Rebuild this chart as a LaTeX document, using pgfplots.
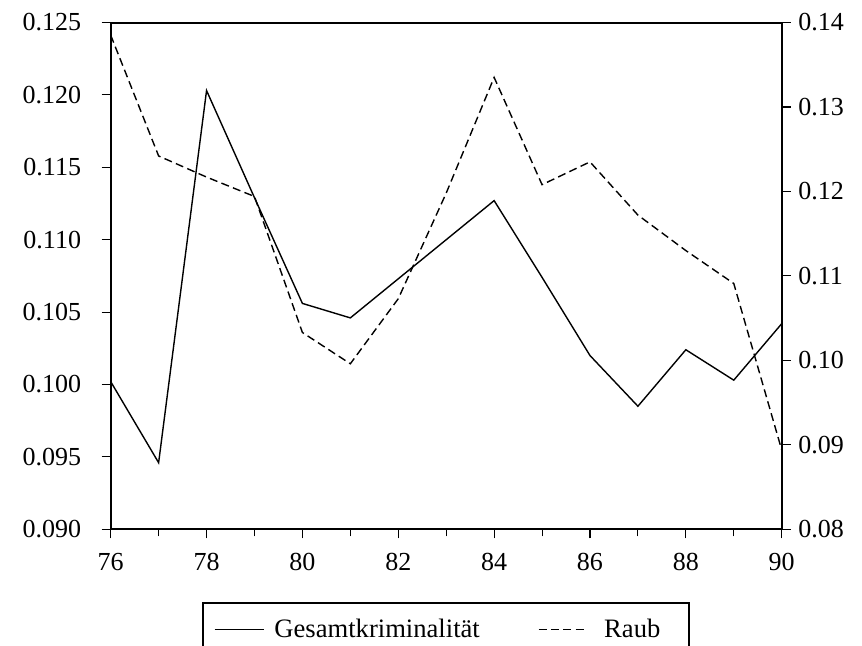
\documentclass[border=0pt]{standalone}
\usepackage{fontspec}
\setmainfont{Liberation Serif}
\usepackage{pgfplots}
\usepackage{pgfplotstable}
\pgfplotsset{compat=1.18}
\pgfplotstableread{
x y
76 0.1002
77 0.0946
78 0.1203
79 0.1129
80 0.1056
81 0.1046
82 0.1073
83 0.1100
84 0.1127
85 0.1074
86 0.1020
87 0.0985
88 0.1024
89 0.1003
90 0.1042
}\gesamt
\pgfplotstableread{
x y
76 0.1385
77 0.1242
78 0.1217
79 0.1194
80 0.1033
81 0.0996
82 0.1073
83 0.1198
84 0.1335
85 0.1208
86 0.1235
87 0.1172
88 0.1130
89 0.1091
90 0.0894
}\raub
\begin{document}
\begin{tikzpicture}
\pgfplotsset{
  common/.style={
    scale only axis, width=335.5pt, height=253.4pt,
    at={(0,0)}, anchor=south west,
    xmin=76, xmax=90,
    tick align=outside,
    major tick length=4.5pt, minor tick length=3.5pt,
    every tick/.style={black, line width=0.55pt},
    axis line style={line width=1pt},
    every axis/.append style={line width=1pt},
    tick label style={font=\fontsize{13}{15.6}\selectfont},
    /pgf/number format/assume math mode=true,
  }
}
\begin{axis}[common,
  axis y line*=left,
  ymin=0.090, ymax=0.125,
  ytick={0.090,0.095,...,0.1251},
  xtick={76,78,...,90},
  minor xtick={77,79,...,89},
  xtick pos=left,
  yticklabel style={xshift=-6.5pt},
  y tick label style={/pgf/number format/.cd, fixed, fixed zerofill, precision=3},
  xticklabel style={yshift=-3.5pt},
]
\addplot[black, line width=0.7pt] table[x=x,y=y]{\gesamt};
\end{axis}
\begin{axis}[common,
  axis y line*=right,
  axis x line=none,
  ymin=0.08, ymax=0.14,
  ytick={0.08,0.09,...,0.141},
  yticklabel style={/pgf/number format/.cd, fixed, fixed zerofill, precision=2},
  legend columns=2,
  legend style={at={(0.5,-0.143)}, anchor=north, draw=black, line width=1pt,
    font=\fontsize{13.3}{16}\selectfont, inner xsep=5.5pt, inner ysep=6pt,
    /tikz/every even column/.append style={column sep=27pt}},
  legend image code/.code={\draw[#1] (0pt,0pt) -- (24.5pt,0pt); \path (27.5pt,0pt);},
]
\addlegendimage{black, line width=0.7pt}
\addlegendentry{Gesamtkriminalität}
\addplot[black, line width=0.7pt, dash pattern=on 4pt off 2.2pt] table[x=x,y=y]{\raub};
\addlegendentry{\hspace*{3pt}Raub\hspace*{7pt}}
\end{axis}
\pgfresetboundingbox
\path[use as bounding box] (-55.35pt,-57.85pt) rectangle (375.65pt,264.65pt);
\end{tikzpicture}
\end{document}
